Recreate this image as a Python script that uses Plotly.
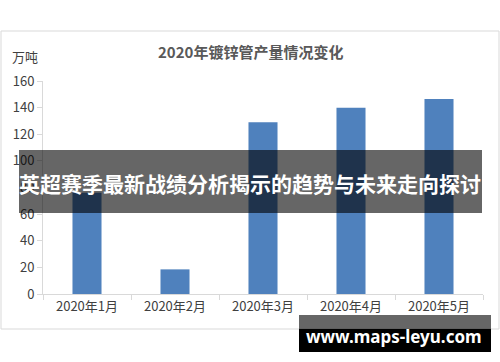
import plotly.graph_objects as go

categories = ["2020年1月", "2020年2月", "2020年3月", "2020年4月", "2020年5月"]
values = [76, 18.5, 129, 140, 146.5]
y_ticks = [0, 20, 40, 60, 80, 100, 120, 140, 160]

title_text = "2020年镀锌管产量情况变化"
unit_text = "万吨"
banner_text = "英超赛季最新战绩分析揭示的趋势与未来走向探讨"
watermark_text = "www.maps-leyu.com"

W, H = 500, 362
L, R, T, B = 43, 483, 81, 294  # plot area in pixels

def px(x):
    return (x - L) / (R - L)

def py(y):
    return (B - y) / (B - T)

FONT = "Noto Sans CJK SC, Noto Sans, sans-serif"
TICK_COLOR = "#404040"

fig = go.Figure(
    go.Bar(
        x=categories,
        y=values,
        marker=dict(color="#4f81bd", line=dict(width=0)),
        width=0.33,
    )
)

fig.update_layout(
    width=W,
    height=H,
    margin=dict(l=L, r=W - R, t=T, b=H - B),
    paper_bgcolor="white",
    plot_bgcolor="white",
    showlegend=False,
    font=dict(family=FONT, color=TICK_COLOR, size=13),
)

fig.update_xaxes(
    showline=True,
    linecolor="#d9d9d9",
    linewidth=1,
    ticks="outside",
    tickson="boundaries",
    ticklen=5,
    tickcolor="#d9d9d9",
    showgrid=False,
    tickfont=dict(size=13, color=TICK_COLOR),
)
fig.update_yaxes(
    range=[0, 160],
    tickvals=y_ticks,
    showline=True,
    linecolor="#d9d9d9",
    linewidth=1,
    ticks="outside",
    ticklen=5,
    tickcolor="#d9d9d9",
    showgrid=False,
    zeroline=False,
    tickfont=dict(size=13, color=TICK_COLOR),
)

shapes = [
    # chart border
    dict(type="rect", xref="paper", yref="paper",
         x0=px(1), x1=px(499), y0=py(329), y1=py(31),
         line=dict(color="#d9d9d9", width=1), fillcolor="rgba(0,0,0,0)", layer="below"),
    # banner
    dict(type="rect", xref="paper", yref="paper",
         x0=px(19), x1=px(482), y0=py(213), y1=py(150),
         line=dict(width=0), fillcolor="rgba(0,0,0,0.6)", layer="above"),
    # watermark background (upper, translucent)
    dict(type="rect", xref="paper", yref="paper",
         x0=px(299), x1=px(491), y0=py(329), y1=py(315),
         line=dict(width=0), fillcolor="rgba(0,0,0,0.6)", layer="above"),
    # watermark background (lower, solid)
    dict(type="rect", xref="paper", yref="paper",
         x0=px(299), x1=px(491), y0=py(352), y1=py(329),
         line=dict(width=0), fillcolor="black", layer="above"),
]

annotations = [
    dict(text="<b>" + title_text + "</b>", xref="paper", yref="paper", x=px(250.5), y=py(51.5),
         showarrow=False, xanchor="center", yanchor="middle",
         font=dict(family=FONT, size=15, color="#595959")),
    dict(text=unit_text, xref="paper", yref="paper", x=px(25), y=py(57),
         showarrow=False, xanchor="center", yanchor="middle",
         font=dict(family=FONT, size=13, color=TICK_COLOR)),
    dict(text="<b>" + banner_text + "</b>", xref="paper", yref="paper", x=px(250), y=py(183),
         showarrow=False, xanchor="center", yanchor="middle",
         font=dict(family=FONT, size=21, color="white")),
    dict(text="<b>" + watermark_text + "</b>", xref="paper", yref="paper", x=px(394), y=py(336),
         showarrow=False, xanchor="center", yanchor="middle",
         font=dict(family="Noto Sans, sans-serif", size=17, color="white")),
]

fig.update_layout(shapes=shapes, annotations=annotations)

fig.write_html("out.html", config={"displayModeBar": False},
               post_script="document.body.style.margin='0';")
